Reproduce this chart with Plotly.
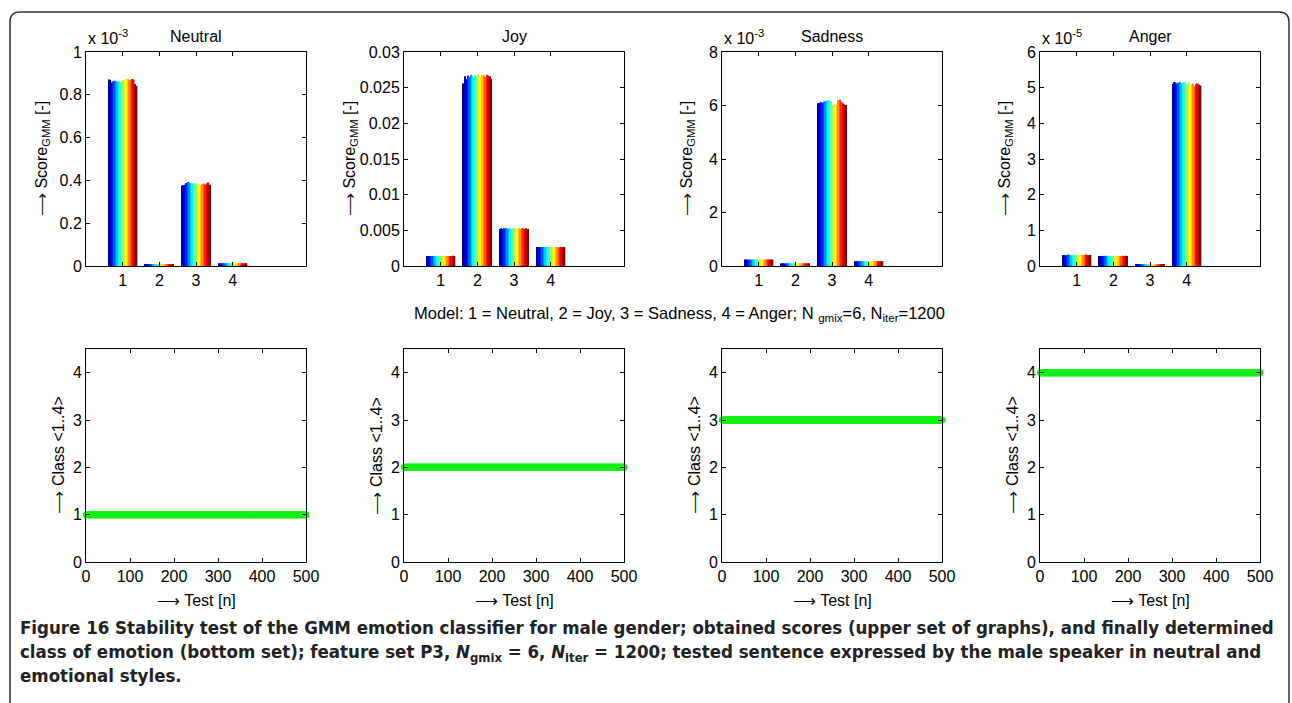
import plotly.graph_objects as go

W, H = 1292, 703

# ---------------- data ----------------
models = [1, 2, 3, 4]
emotions = ["Neutral", "Joy", "Sadness", "Anger"]
exponents = [-3, None, -3, -5]          # multiplier shown above each score axis

# GMM scores per tested model (display units; sampled tests, left->right = first->last test)
neutral_m1 = [0.872, 0.870, 0.858, 0.862, 0.866, 0.864, 0.860, 0.862, 0.858, 0.864,
              0.868, 0.872, 0.874, 0.874, 0.870, 0.868, 0.874, 0.872, 0.850, 0.842]
neutral_m2 = [0.008, 0.008, 0.0078, 0.008, 0.0082, 0.008, 0.0079, 0.008, 0.0081, 0.008,
              0.008, 0.0082, 0.008, 0.0079, 0.008, 0.0081, 0.008, 0.008, 0.0082, 0.008]
neutral_m3 = [0.376, 0.378, 0.380, 0.388, 0.392, 0.390, 0.386, 0.388, 0.384, 0.386,
              0.382, 0.384, 0.380, 0.378, 0.382, 0.384, 0.380, 0.386, 0.390, 0.380]
neutral_m4 = [0.013, 0.013, 0.0128, 0.013, 0.0132, 0.013, 0.0131, 0.013, 0.0129, 0.013,
              0.013, 0.0132, 0.013, 0.0129, 0.013, 0.0131, 0.013, 0.013, 0.0132, 0.013]

joy_m1 = [0.0014, 0.0014, 0.00138, 0.0014, 0.00142, 0.0014, 0.00139, 0.0014, 0.00141, 0.0014,
          0.0014, 0.00142, 0.0014, 0.00139, 0.0014, 0.00141, 0.0014, 0.0014, 0.00142, 0.0014]
joy_m2 = [0.0256, 0.0266, 0.0262, 0.0267, 0.0265, 0.0268, 0.0266, 0.0264, 0.0267, 0.0266,
          0.0268, 0.0267, 0.0266, 0.0268, 0.0267, 0.0265, 0.0268, 0.0267, 0.0266, 0.0262]
joy_m3 = [0.0052, 0.0053, 0.0052, 0.0053, 0.0053, 0.0052, 0.0053, 0.0053, 0.0052, 0.0053,
          0.0053, 0.0052, 0.0053, 0.0053, 0.0052, 0.0053, 0.0053, 0.0052, 0.0053, 0.0052]
joy_m4 = [0.00265, 0.00266, 0.00264, 0.00266, 0.00265, 0.00266, 0.00264, 0.00265, 0.00266, 0.00265,
          0.00266, 0.00264, 0.00265, 0.00266, 0.00265, 0.00264, 0.00266, 0.00265, 0.00266, 0.00264]

sadness_m1 = [0.24, 0.24, 0.238, 0.24, 0.242, 0.24, 0.239, 0.24, 0.241, 0.24,
              0.24, 0.242, 0.24, 0.239, 0.24, 0.241, 0.24, 0.24, 0.242, 0.24]
sadness_m2 = [0.10, 0.10, 0.098, 0.10, 0.102, 0.10, 0.099, 0.10, 0.101, 0.10,
              0.10, 0.102, 0.10, 0.099, 0.10, 0.101, 0.10, 0.10, 0.102, 0.10]
sadness_m3 = [6.08, 6.10, 6.12, 6.10, 6.14, 6.16, 6.18, 6.20, 6.18, 6.14,
              6.02, 6.04, 6.06, 6.02, 6.20, 6.22, 6.14, 6.08, 6.04, 6.02]
sadness_m4 = [0.18, 0.18, 0.178, 0.18, 0.182, 0.18, 0.179, 0.18, 0.181, 0.18,
              0.18, 0.182, 0.18, 0.179, 0.18, 0.181, 0.18, 0.18, 0.182, 0.18]

anger_m1 = [0.31, 0.31, 0.30, 0.31, 0.32, 0.31, 0.30, 0.31, 0.31, 0.30,
            0.31, 0.32, 0.31, 0.30, 0.31, 0.31, 0.32, 0.31, 0.30, 0.31]
anger_m2 = [0.28, 0.28, 0.285, 0.28, 0.29, 0.28, 0.285, 0.28, 0.28, 0.285,
            0.28, 0.29, 0.28, 0.285, 0.28, 0.28, 0.285, 0.28, 0.29, 0.28]
anger_m3 = [0.05, 0.05, 0.048, 0.05, 0.052, 0.05, 0.049, 0.05, 0.051, 0.05,
            0.05, 0.052, 0.05, 0.049, 0.05, 0.051, 0.05, 0.05, 0.052, 0.05]
anger_m4 = [5.10, 5.16, 5.14, 5.12, 5.14, 5.16, 5.12, 5.14, 5.16, 5.12,
            5.08, 5.14, 5.06, 5.10, 5.12, 5.04, 5.10, 5.12, 5.08, 5.06]

scores = [
    [neutral_m1, neutral_m2, neutral_m3, neutral_m4],
    [joy_m1, joy_m2, joy_m3, joy_m4],
    [sadness_m1, sadness_m2, sadness_m3, sadness_m4],
    [anger_m1, anger_m2, anger_m3, anger_m4],
]

y_ranges = [[0, 1], [0, 0.03], [0, 8], [0, 6]]
y_tickvals = [[0, 0.2, 0.4, 0.6, 0.8, 1],
              [0, 0.005, 0.01, 0.015, 0.02, 0.025, 0.03],
              [0, 2, 4, 6, 8],
              [0, 1, 2, 3, 4, 5, 6]]
y_ticktext = [["0", "0.2", "0.4", "0.6", "0.8", "1"],
              ["0", "0.005", "0.01", "0.015", "0.02", "0.025", "0.03"],
              ["0", "2", "4", "6", "8"],
              ["0", "1", "2", "3", "4", "5", "6"]]

# determined class for every test (constant over all 500 tests)
n_tests = 500
decided_class = [1, 2, 3, 4]
test_ticks = [0, 100, 200, 300, 400, 500]
class_ticks = [0, 1, 2, 3, 4]

# ---------------- styling helpers ----------------
FONT = "Liberation Sans, Arial, Helvetica, sans-serif"
FS = 16


def jet(t):
    def c(v):
        return max(0.0, min(1.0, v))
    r = c(1.5 - abs(4 * t - 3))
    g = c(1.5 - abs(4 * t - 2))
    b = c(1.5 - abs(4 * t - 1))
    return "rgb(%d,%d,%d)" % (round(r * 255), round(g * 255), round(b * 255))


lefts = [86, 404, 722, 1040]
pw = 220
top_y = (52, 266)
bot_y = (349, 562)


def xd(px0):
    return [px0 / W, (px0 + pw) / W]


def yd(t, b):
    return [1 - b / H, 1 - t / H]


fig = go.Figure()
layout = dict(
    width=W, height=H, margin=dict(l=0, r=0, t=0, b=0, autoexpand=False),
    paper_bgcolor="white", plot_bgcolor="white",
    showlegend=False, barmode="group", bargap=0.2, bargroupgap=0,
    font=dict(family=FONT, size=FS, color="black"),
)

axis_common = dict(showline=True, linecolor="black", linewidth=1, mirror="ticks",
                   ticks="inside", ticklen=4, tickcolor="black", showgrid=False,
                   zeroline=False, automargin=False,
                   tickfont=dict(family=FONT, size=FS, color="black"))

annotations = []
n_series = len(neutral_m1)

for p in range(4):
    xa = "x%d" % (p + 1)
    ya = "y%d" % (p + 1)
    sfx = "" if p == 0 else str(p + 1)
    for i in range(n_series):
        fig.add_trace(go.Bar(
            x=models, y=[scores[p][m][i] for m in range(4)],
            xaxis=xa, yaxis=ya,
            marker=dict(color=jet(i / (n_series - 1)), line=dict(width=0)),
            offsetgroup=str(i), hoverinfo="skip",
        ))
    layout["xaxis" + sfx] = dict(axis_common, domain=xd(lefts[p]), range=[0, 6],
                                 tickvals=models, anchor=ya)
    layout["yaxis" + sfx] = dict(axis_common, domain=yd(*top_y), range=y_ranges[p],
                                 tickvals=y_tickvals[p], ticktext=y_ticktext[p], anchor=xa)
    # title
    annotations.append(dict(text=emotions[p], x=(lefts[p] + pw / 2) / W, y=1 - 37 / H,
                            xref="paper", yref="paper", showarrow=False,
                            xanchor="center", yanchor="middle", font=dict(size=FS)))
    if exponents[p] is not None:
        annotations.append(dict(text="x 10<sup>%d</sup>" % exponents[p], x=lefts[p] / W,
                                y=1 - 37 / H, xref="paper", yref="paper", showarrow=False,
                                xanchor="left", yanchor="middle", font=dict(size=FS)))
    ylab_x = [42, 350, 687, 1005][p]
    annotations.append(dict(text="⟶ Score<sub>GMM</sub> [-]", x=ylab_x / W,
                            y=1 - (sum(top_y) / 2) / H, xref="paper", yref="paper",
                            showarrow=False, textangle=-90, xanchor="center",
                            yanchor="middle", font=dict(size=FS)))

# bottom row: class decision per test
tests = list(range(1, n_tests + 1))
for p in range(4):
    k = p + 5
    xa, ya = "x%d" % k, "y%d" % k
    fig.add_trace(go.Scatter(
        x=tests, y=[decided_class[p]] * n_tests, xaxis=xa, yaxis=ya,
        mode="markers", marker=dict(color="#14f014", size=7, line=dict(width=0)),
        cliponaxis=False, hoverinfo="skip",
    ))
    layout["xaxis%d" % k] = dict(axis_common, domain=xd(lefts[p]), range=[0, 500],
                                 tickvals=test_ticks, anchor=ya)
    layout["yaxis%d" % k] = dict(axis_common, domain=yd(*bot_y), range=[0, 4.5],
                                 tickvals=class_ticks, anchor=xa)
    annotations.append(dict(text="⟶ Class <1..4>", x=(lefts[p] - 28) / W,
                            y=1 - (sum(bot_y) / 2) / H, xref="paper", yref="paper",
                            showarrow=False, textangle=-90, xanchor="center",
                            yanchor="middle", font=dict(size=FS)))
    annotations.append(dict(text="⟶ Test [n]", x=(lefts[p] + pw / 2) / W, y=1 - 600 / H,
                            xref="paper", yref="paper", showarrow=False,
                            xanchor="center", yanchor="middle", font=dict(size=FS)))

annotations.append(dict(
    text="Model: 1 = Neutral, 2 = Joy, 3 = Sadness, 4 = Anger; N <sub>gmix</sub>=6, N<sub>iter</sub>=1200",
    x=679 / W, y=1 - 314 / H, xref="paper", yref="paper", showarrow=False,
    xanchor="center", yanchor="middle", font=dict(size=16.5)))

caption = ("<b>Figure 16 Stability test of the GMM emotion classifier for male gender; obtained scores (upper set of graphs), and finally determined<br>"
           "class of emotion (bottom set); feature set P3, <i>N</i><sub>gmix</sub> = 6, <i>N</i><sub>iter</sub> = 1200; tested sentence expressed by the male speaker in neutral and<br>"
           "emotional styles.</b>")
annotations.append(dict(text=caption, x=18 / W, y=1 - 615 / H, xref="paper", yref="paper",
                        showarrow=False, xanchor="left", yanchor="top", align="left",
                        font=dict(family="DejaVu Sans Condensed, Liberation Sans Narrow, sans-serif",
                                  size=18.5, color="#222")))

layout["annotations"] = annotations

# rounded frame (open at the bottom)
x0, x1, yt, r = 10 / W, 1289 / W, 1 - 12 / H, 10
path = ("M %f %f L %f %f Q %f %f %f %f L %f %f Q %f %f %f %f L %f %f" % (
    x0, -0.05, x0, yt - r / H, x0, yt, x0 + r / W, yt,
    x1 - r / W, yt, x1, yt, x1, yt - r / H, x1, -0.05))
layout["shapes"] = [dict(type="path", path=path, xref="paper", yref="paper",
                         line=dict(color="#333", width=1.5))]

fig.update_layout(**layout)
fig.write_html("out.html",
               post_script="document.documentElement.style.margin='0';document.body.style.margin='0';document.body.style.overflow='hidden';")
